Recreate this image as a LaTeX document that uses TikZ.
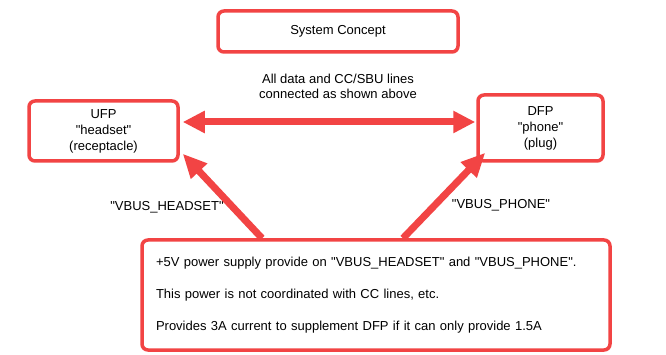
\documentclass[tikz,border=0pt]{standalone}
\usepackage{fontspec}
\setmainfont{Liberation Sans}
\usetikzlibrary{arrows.meta}
\definecolor{rd}{RGB}{242,68,68}
\newcommand{\dq}{\XeTeXglyph\the\XeTeXcharglyph"22\relax}
\begin{document}
\begin{tikzpicture}[x=1pt,y=-1pt,
  box/.style={draw=rd, line width=3.5pt, rounded corners=6pt, inner sep=0pt,
    font=\fontsize{13}{16}\selectfont, align=center},
  lbl/.style={font=\fontsize{13}{15}\selectfont, align=center, inner sep=0pt},
  fat/.style={draw=rd, line width=7pt},
  dbl/.style={fat, {Triangle[length=22pt,width=21pt]}-{Triangle[length=22pt,width=21pt]}},
  sgl/.style={fat, -{Triangle[length=24pt,width=21pt]}}]
\useasboundingbox (0,0) rectangle (666,355);
\fill[white] (0,0) rectangle (666,355);
\node[box, minimum width=240pt, minimum height=41pt] (sys) at (338,31.5) {System Concept};
\node[lbl] (cap) at (338,86) {All data and CC/SBU lines\\connected as shown above};
\node[box, minimum width=149pt, minimum height=60pt] (ufp) at (103.5,131) {UFP\\\dq headset\dq\\(receptacle)};
\node[box, minimum width=125pt, minimum height=66pt] (dfp) at (540.5,128) {DFP\\\dq phone\dq\\(plug)};
\node[box, minimum width=468pt, minimum height=110pt, text width=440pt, align=left,
  font=\fontsize{13}{32}\selectfont] (bot) at (376,295)
  {+5V power supply provide on \dq VBUS\_HEADSET\dq{} and \dq VBUS\_PHONE\dq.\\
   This power is not coordinated with CC lines, etc.\\
   Provides 3A current to supplement DFP if it can only provide 1.5A};
\node[lbl] (lh) at (167,207) {\dq VBUS\_HEADSET\dq};
\node[lbl] (lp) at (501,205) {\dq VBUS\_PHONE\dq};
\draw[dbl] ([xshift=3pt,yshift=9pt]ufp.east) -- ([xshift=-1pt,yshift=6pt]dfp.west);
\draw[sgl] ([xshift=-114pt]bot.north) -- ([xshift=3pt,yshift=9pt]ufp.south east);
\draw[sgl] ([xshift=27pt]bot.north) -- ([xshift=9pt,yshift=10pt]dfp.south west);
\end{tikzpicture}
\end{document}
